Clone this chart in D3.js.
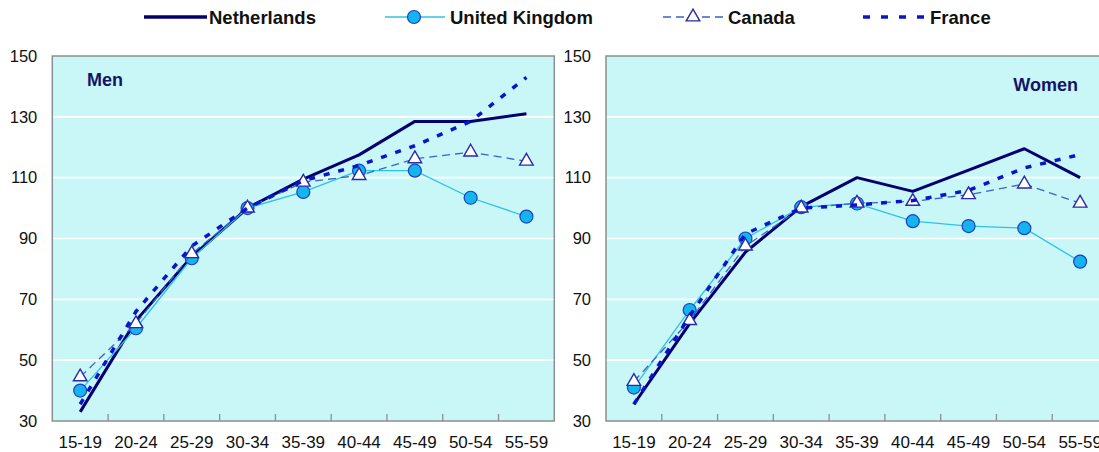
<!DOCTYPE html>
<html><head><meta charset="utf-8">
<script src="https://cdn.jsdelivr.net/npm/d3@7"></script>
<style>
html,body{margin:0;padding:0;background:#fff;}
svg{display:block;font-family:"Liberation Sans",Arial,sans-serif;}
</style></head>
<body>
<svg id="chart" width="1099" height="452"></svg>
<script>
const categories = ["15-19","20-24","25-29","30-34","35-39","40-44","45-49","50-54","55-59"];
const yTicks = [30,50,70,90,110,130,150];
const seriesNames = ["Netherlands","United Kingdom","Canada","France"];

const menNL = [33, 63, 84, 100, 109.5, 117.5, 128.5, 128.5, 131];
const menUK = [40, 60.5, 83.5, 100, 105.3, 112.3, 112.3, 103.4, 97.2];
const menCA = [44.5, 62, 85, 100, 108.5, 110.7, 116.2, 118.4, 115.4];
const menFR = [35.5, 66, 87.5, 100, 109, 114, 120.5, 128.5, 143];

const womenNL = [35.5, 62, 85.5, 100.5, 110, 105.5, 112.5, 119.5, 110];
const womenUK = [41, 66.5, 90, 100.3, 101.5, 95.7, 94.1, 93.4, 82.4];
const womenCA = [43, 63, 87.5, 100, 101.6, 102.2, 104.4, 107.9, 101.6];
const womenFR = [35.5, 64.5, 91.5, 100, 101, 102.5, 105.8, 113.2, 117.6];

const styles = {
  "Netherlands":   {stroke:"#000070", width:3, dash:null, marker:null},
  "United Kingdom":{stroke:"#2ec2e6", width:1.3, dash:null, marker:"circle"},
  "Canada":        {stroke:"#3a62cc", width:1.3, dash:"8,5", marker:"triangle"},
  "France":        {stroke:"#0a14cc", width:3.5, dash:"6,9", marker:null}
};

const svg = d3.select("#chart");
const plotTop = 56, plotBottom = 421, plotW = 502;
const y = d3.scaleLinear().domain([30,150]).range([plotBottom, plotTop]);

function drawMarker(sel, type){
  if(type==="circle"){
    sel.append("circle").attr("r",6.5).attr("fill","#14b4ee").attr("stroke","#2040c0").attr("stroke-width",1.2);
  } else if(type==="triangle"){
    sel.append("path").attr("d", d3.symbol(d3.symbolTriangle, 80)()).attr("fill","#ffffff").attr("stroke","#2a2aa8").attr("stroke-width",1.4);
  }
}

function panel(x0, seriesData, title, titleAnchor, titleX, titleY){
  const x = d3.scaleBand().domain(categories).range([x0, x0+plotW]).padding(0);
  const cx = c => x(c) + x.bandwidth()/2;
  const g = svg.append("g");
  g.append("rect").attr("x",x0).attr("y",plotTop).attr("width",plotW).attr("height",plotBottom-plotTop)
    .attr("fill","#c9f7f7").attr("stroke","#8a8f8f").attr("stroke-width",1.5);
  g.selectAll("line.grid").data(yTicks.filter(t=>t>30 && t<150)).join("line")
    .attr("class","grid")
    .attr("x1",x0+1).attr("x2",x0+plotW-1).attr("y1",d=>y(d)).attr("y2",d=>y(d))
    .attr("stroke","#ffffff").attr("stroke-width",1.6);
  const ya = g.append("g").attr("transform",`translate(${x0},0)`)
    .call(d3.axisLeft(y).tickValues(yTicks).tickSize(0).tickPadding(15));
  ya.select(".domain").remove();
  ya.selectAll("text").attr("font-size",16.5).attr("fill","#111").attr("font-family","Liberation Sans, Arial, sans-serif");
  const xa = g.append("g").attr("transform",`translate(0,${plotBottom})`)
    .call(d3.axisBottom(x).tickSize(0).tickPadding(15));
  xa.select(".domain").remove();
  xa.selectAll("text").attr("font-size",17).attr("fill","#111").attr("font-family","Liberation Sans, Arial, sans-serif");
  g.selectAll("line.tk").data(categories.slice(1)).join("line")
    .attr("class","tk")
    .attr("x1",d=>x(d)).attr("x2",d=>x(d)).attr("y1",plotBottom).attr("y2",plotBottom-7)
    .attr("stroke","#8a8f8f").attr("stroke-width",1.3);
  g.append("text").attr("x",titleX).attr("y",titleY).attr("text-anchor",titleAnchor)
    .attr("font-size",18).attr("font-weight","bold").attr("fill","#141466").text(title);
  const line = d3.line().x((d,i)=>cx(categories[i])).y(d=>y(d));
  seriesNames.forEach((name,si)=>{
    const st = styles[name];
    const vals = seriesData[si];
    g.append("path").datum(vals).attr("d",line).attr("fill","none")
      .attr("stroke",st.stroke).attr("stroke-width",st.width)
      .attr("stroke-dasharray",st.dash).attr("stroke-linejoin","round");
    if(st.marker){
      vals.forEach((v,i)=>{
        const m = g.append("g").attr("transform",`translate(${cx(categories[i])},${y(v)})`);
        drawMarker(m, st.marker);
      });
    }
  });
}

panel(52.3, [menNL, menUK, menCA, menFR], "Men", "start", 87, 86);
panel(606, [womenNL, womenUK, womenCA, womenFR], "Women", "end", 1078, 91);

const legendItems = [
  {name:"Netherlands", x1:144, x2:207, mx:null, tx:209},
  {name:"United Kingdom", x1:385, x2:445, mx:414, tx:450},
  {name:"Canada", x1:663, x2:725, mx:693, tx:728},
  {name:"France", x1:863, x2:925, mx:null, tx:930}
];
const ly = 17;
const lg = svg.append("g");
legendItems.forEach(it=>{
  const st = styles[it.name];
  lg.append("line").attr("x1",it.x1).attr("x2",it.x2).attr("y1",ly).attr("y2",ly)
    .attr("stroke",st.stroke).attr("stroke-width",it.name==="Netherlands"?3.5:st.width)
    .attr("stroke-dasharray", it.name==="France" ? "7,11" : st.dash);
  if(it.mx!==null){
    const m = lg.append("g").attr("transform",`translate(${it.mx},${ly})`);
    drawMarker(m, st.marker);
  }
  lg.append("text").attr("x",it.tx).attr("y",ly).attr("dy","0.36em")
    .attr("font-size",18.5).attr("font-weight","bold").attr("fill","#111").text(it.name);
});
</script>
</body></html>
